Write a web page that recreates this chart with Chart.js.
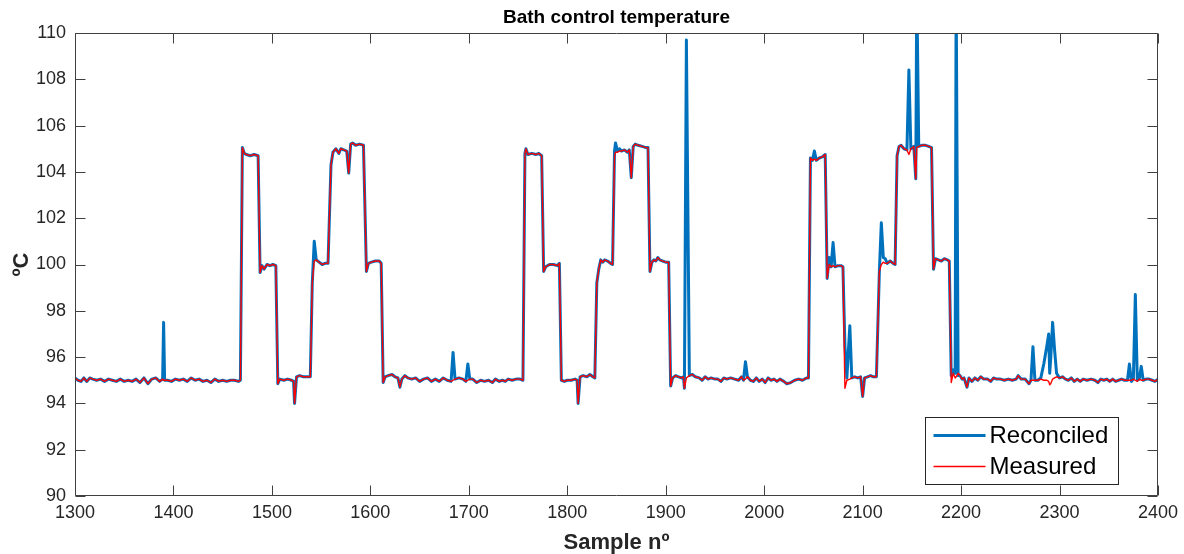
<!DOCTYPE html>
<html>
<head>
<meta charset="utf-8">
<title>Bath control temperature</title>
<script src="https://cdn.jsdelivr.net/npm/chart.js@4.4.1/dist/chart.umd.min.js"></script>
<style>
    html, body { margin: 0; padding: 0; background: #ffffff; }
    #chartWrap { position: relative; width: 1184px; height: 554px; }
</style>
</head>
<body>
<div id="chartWrap"><canvas id="bathChart"></canvas></div>
<script>
// sample numbers (x) shared by both series
const sampleNo = [
    1300,1303,1306,1309,1312,1315,1318,1322,1326,1330,
    1334,1338,1342,1346,1350,1354,1358,1362,1366,1370,
    1374,1378,1382,1386,1389,1390,1391,1394,1398,1402,
    1406,1410,1414,1418,1422,1426,1430,1434,1438,1442,
    1446,1450,1454,1458,1462,1466,1468,1470,1472,1474,
    1478,1482,1486,1488,1490,1492,1495,1498,1501,1504,
    1506,1508,1512,1516,1520,1522,1523,1525,1528,1532,
    1536,1539,1541,1543,1545,1548,1551,1554,1557,1560,
    1562,1565,1568,1570,1573,1576,1578,1580,1582,1585,
    1589,1593,1596,1598,1601,1605,1609,1611,1613,1615,
    1618,1622,1625,1628,1630,1632,1635,1638,1642,1646,
    1650,1654,1658,1662,1666,1670,1674,1678,1682,1684,
    1686,1690,1694,1697,1699,1701,1704,1708,1712,1716,
    1720,1724,1727,1731,1734,1737,1740,1744,1748,1752,
    1755,1757,1758,1760,1764,1768,1771,1774,1776,1778,
    1782,1786,1790,1792,1794,1797,1800,1804,1808,1810,
    1811,1813,1816,1820,1823,1826,1828,1830,1832,1834,
    1836,1838,1841,1844,1846,1848,1849,1851,1853,1855,
    1858,1861,1863,1865,1867,1869,1872,1876,1880,1882,
    1884,1886,1888,1890,1892,1894,1897,1900,1903,1905,
    1907,1910,1913,1916,1918,1919,1921,1924,1927,1930,
    1934,1937,1940,1943,1946,1950,1953,1956,1959,1962,
    1966,1970,1974,1977,1979,1981,1983,1986,1989,1992,
    1995,1998,2001,2004,2007,2010,2013,2016,2020,2023,
    2027,2031,2035,2039,2043,2045,2047,2049,2051,2053,
    2056,2059,2062,2064,2066,2068,2070,2072,2075,2078,
    2080,2082,2084,2087,2089,2092,2095,2098,2100,2102,
    2105,2108,2111,2114,2117,2119,2121,2123,2125,2128,
    2131,2133,2135,2137,2139,2142,2145,2147,2149,2152,
    2154,2155,2157,2160,2164,2167,2170,2172,2174,2177,
    2180,2183,2186,2188,2190,2192,2194,2195,2197,2199,
    2201,2203,2206,2208,2211,2214,2217,2220,2223,2227,
    2230,2233,2236,2240,2244,2248,2252,2256,2258,2261,
    2265,2269,2271,2273,2275,2278,2281,2284,2287,2289,
    2290,2291,2293,2295,2297,2300,2303,2306,2309,2312,
    2315,2318,2321,2324,2328,2332,2336,2339,2342,2345,
    2348,2351,2354,2357,2360,2363,2366,2369,2371,2373,
    2375,2377,2379,2381,2383,2385,2388,2391,2394,2397,
    2400
];

const measured = [
    95.1,95.0,94.95,95.1,94.95,95.1,95.05,95.0,95.05,94.95,
    95.05,95.0,94.95,95.05,94.95,95.0,94.95,95.05,94.9,95.1,
    94.85,95.05,95.1,94.95,95.05,95.0,95.0,95.0,94.95,95.05,
    95.0,95.05,94.95,95.1,95.0,95.05,94.95,95.0,94.9,95.05,
    94.95,95.0,94.95,95.0,95.0,94.95,95.0,105.05,104.8,104.75,
    104.7,104.75,104.7,99.65,99.95,99.8,100.0,99.95,100.0,99.95,
    94.85,95.05,95.0,95.05,95.0,94.95,94.0,95.15,95.2,95.15,
    95.15,95.15,99.2,100.15,100.2,100.1,100.0,100.05,100.05,104.3,
    104.85,105.0,104.8,105.0,104.95,104.9,103.95,105.2,105.25,105.15,
    105.2,105.15,99.7,100.05,100.1,100.15,100.15,100.05,94.9,95.15,
    95.2,95.25,95.15,95.1,94.7,95.05,95.2,95.1,95.05,95.1,
    94.95,95.05,95.1,94.95,95.05,94.95,95.1,95.0,94.95,95.0,
    95.05,95.1,95.05,94.95,95.0,95.05,95.05,94.9,95.0,94.95,
    95.0,94.9,95.05,94.95,95.0,94.95,95.05,95.0,95.05,95.05,
    95.0,104.8,105.0,104.75,104.8,104.75,104.8,104.7,99.7,99.9,
    100.0,100.0,99.95,100.05,95.0,94.95,95.0,95.0,95.05,95.0,
    94.0,95.15,95.2,95.15,95.25,95.15,95.1,99.2,99.8,100.2,
    100.1,100.2,100.15,100.05,100.0,104.7,104.85,104.85,104.9,104.9,
    104.95,104.85,104.95,103.75,105.1,105.2,105.15,105.1,105.05,105.05,
    99.7,100.1,100.2,100.15,100.3,100.2,100.15,100.1,100.1,94.75,
    95.1,95.2,95.15,95.1,95.15,94.65,95.1,95.2,95.25,95.15,
    95.1,95.0,95.15,95.05,95.1,95.05,95.05,94.95,95.1,95.05,
    95.1,95.05,95.0,95.15,95.0,95.05,95.15,95.0,94.95,95.1,
    94.95,95.05,94.9,95.1,95.0,95.05,94.95,95.05,94.95,94.85,
    94.9,95.0,95.05,95.0,95.1,95.1,104.6,104.5,104.55,104.5,
    104.6,104.65,104.75,99.4,100.0,99.9,99.95,99.9,99.95,99.95,
    99.9,94.65,95.0,95.05,95.1,95.15,95.1,95.15,94.3,95.1,
    95.15,95.2,95.15,95.15,99.7,100.0,100.1,100.05,100.05,100.15,
    100.05,100.0,104.7,105.1,105.15,105.0,104.95,104.75,105.0,105.1,
    103.7,105.05,105.1,105.15,105.15,105.1,105.05,99.8,100.25,100.2,
    100.15,100.25,100.2,100.15,94.9,95.3,95.1,95.15,95.3,95.2,
    95.05,95.1,94.7,95.1,94.95,95.1,95.0,95.15,95.05,95.05,
    94.95,95.1,95.05,95.05,95.0,95.05,95.0,95.05,95.2,95.05,
    95.05,94.85,95.0,95.0,95.0,95.0,95.05,95.0,95.0,94.95,
    94.8,94.85,95.05,95.1,95.15,95.1,95.15,95.05,95.0,95.1,
    94.95,95.05,94.95,95.05,95.0,95.05,95.0,94.9,95.05,95.0,
    95.05,94.95,95.05,94.95,95.0,95.05,95.0,95.0,95.0,95.0,
    95.05,95.0,94.95,95.05,95.0,95.0,95.05,95.05,95.0,94.95,
    95.05
];

const reconciled = [
    95.1,95.0,94.95,95.1,94.95,95.1,95.05,95.0,95.05,94.95,
    95.05,95.0,94.95,95.05,94.95,95.0,94.95,95.05,94.9,95.1,
    94.85,95.05,95.1,94.95,95.05,97.5,95.0,95.0,94.95,95.05,
    95.0,95.05,94.95,95.1,95.0,95.05,94.95,95.0,94.9,95.05,
    94.95,95.0,94.95,95.0,95.0,94.95,95.0,105.05,104.8,104.75,
    104.7,104.75,104.7,99.65,99.95,99.8,100.0,99.95,100.0,99.95,
    94.85,95.05,95.0,95.05,95.0,94.95,94.0,95.15,95.2,95.15,
    95.15,95.15,99.2,101.0,100.2,100.1,100.0,100.05,100.05,104.3,
    104.85,105.0,104.8,105.0,104.95,104.9,103.95,105.2,105.25,105.15,
    105.2,105.15,99.7,100.05,100.1,100.15,100.15,100.05,94.9,95.15,
    95.2,95.25,95.15,95.1,94.7,95.05,95.2,95.1,95.05,95.1,
    94.95,95.05,95.1,94.95,95.05,94.95,95.1,95.0,94.95,96.2,
    95.05,95.1,95.05,94.95,95.7,95.05,95.05,94.9,95.0,94.95,
    95.0,94.9,95.05,94.95,95.0,94.95,95.05,95.0,95.05,95.05,
    95.0,104.8,105.0,104.75,104.8,104.75,104.8,104.7,99.7,99.9,
    100.0,100.0,99.95,100.05,95.0,94.95,95.0,95.0,95.05,95.0,
    94.0,95.15,95.2,95.15,95.25,95.15,95.1,99.2,99.8,100.2,
    100.1,100.2,100.15,100.05,100.0,104.9,105.25,104.9,105.0,104.9,
    104.95,104.85,104.95,103.75,105.1,105.2,105.15,105.1,105.05,105.05,
    99.7,100.1,100.2,100.15,100.3,100.2,100.15,100.1,100.1,94.75,
    95.1,95.2,95.15,95.1,95.15,94.65,109.7,95.2,95.25,95.15,
    95.1,95.0,95.15,95.05,95.1,95.05,95.05,94.95,95.1,95.05,
    95.1,95.05,95.0,95.15,95.0,95.8,95.15,95.0,94.95,95.1,
    94.95,95.05,94.9,95.1,95.0,95.05,94.95,95.05,94.95,94.85,
    94.9,95.0,95.05,95.0,95.1,95.1,104.6,104.5,104.9,104.5,
    104.6,104.65,104.75,99.4,100.3,99.9,100.95,99.9,99.95,99.95,
    99.9,96.5,95.1,97.35,95.1,95.15,95.1,95.15,94.3,95.1,
    95.15,95.2,95.15,95.15,99.7,101.8,100.3,100.25,100.05,100.15,
    100.05,100.0,104.7,105.1,105.15,105.0,104.95,108.4,105.0,105.1,
    103.7,112.0,105.1,105.15,105.15,105.1,105.05,99.8,100.25,100.2,
    100.15,100.25,100.2,100.15,95.2,95.45,95.3,112.0,95.2,95.2,
    95.05,95.1,94.7,95.1,94.95,95.1,95.0,95.15,95.05,95.05,
    94.95,95.1,95.05,95.05,95.0,95.05,95.0,95.05,95.2,95.05,
    95.05,94.85,95.0,96.45,95.0,95.0,95.1,95.7,96.45,97.0,
    95.3,95.9,97.5,96.3,95.3,95.1,95.15,95.05,95.0,95.1,
    94.95,95.05,94.95,95.05,95.0,95.05,95.0,94.9,95.05,95.0,
    95.05,94.95,95.05,94.95,95.0,95.05,95.0,95.0,95.7,94.95,
    95.05,98.7,95.0,95.05,95.6,95.0,95.05,95.05,95.0,94.95,
    95.05
];

const xTickRange = [1300, 2400, 100];
const yTickRange = [90, 110, 2];
const seriesLabels = ["Reconciled", "Measured"];
const chartTitle = "Bath control temperature";

const FONT = "'Liberation Sans', Arial, Helvetica, sans-serif";
const AXIS_COLOR = "#404040";

function toPoints(values) {
    return sampleNo.map((x, i) => ({ x: x, y: values[i] }));
}

// title centred over the axes, like MATLAB does
const axesTitlePlugin = {
    id: "axesTitle",
    afterDraw(chart) {
        const ctx = chart.ctx;
        const ca = chart.chartArea;
        ctx.save();
        ctx.font = "bold 19px " + FONT;
        ctx.fillStyle = "#000000";
        ctx.textAlign = "center";
        ctx.textBaseline = "middle";
        ctx.fillText(chartTitle, (ca.left + ca.right) / 2, 18);
        ctx.restore();
    },
};

// MATLAB style box with inward ticks on all four sides
const boxTicksPlugin = {
    id: "boxTicks",
    afterDatasetsDraw(chart) {
        const ctx = chart.ctx;
        const ca = chart.chartArea;
        const left = Math.round(ca.left) + 0.5;
        const right = Math.round(ca.right) - 0.5;
        const top = Math.round(ca.top) + 0.5;
        const bottom = Math.round(ca.bottom) - 0.5;
        const len = 10;

        ctx.save();
        ctx.strokeStyle = AXIS_COLOR;
        ctx.lineWidth = 1;
        ctx.beginPath();
        ctx.rect(left, top, right - left, bottom - top);

        chart.scales.x.ticks.forEach((t) => {
            const px = Math.round(chart.scales.x.getPixelForValue(t.value)) + 0.5;
            ctx.moveTo(px, bottom);
            ctx.lineTo(px, bottom - len);
            ctx.moveTo(px, top);
            ctx.lineTo(px, top + len);
        });
        chart.scales.y.ticks.forEach((t) => {
            const py = Math.round(chart.scales.y.getPixelForValue(t.value)) + 0.5;
            ctx.moveTo(left, py);
            ctx.lineTo(left + len, py);
            ctx.moveTo(right, py);
            ctx.lineTo(right - len, py);
        });
        ctx.stroke();
        ctx.restore();
    },
};

// legend box inside the axes, bottom right
const insideLegendPlugin = {
    id: "insideLegend",
    afterDraw(chart) {
        const ctx = chart.ctx;
        const ca = chart.chartArea;
        const boxW = 193;
        const boxH = 67;
        const x0 = Math.round(ca.right - 40 - boxW) + 0.5;
        const y0 = Math.round(ca.bottom - 12 - boxH) + 0.5;

        ctx.save();
        ctx.fillStyle = "#ffffff";
        ctx.fillRect(x0, y0, boxW, boxH);
        ctx.strokeStyle = "#262626";
        ctx.lineWidth = 1;
        ctx.strokeRect(x0, y0, boxW, boxH);

        ctx.font = "24px " + FONT;
        ctx.textBaseline = "middle";
        ctx.textAlign = "left";
        chart.data.datasets.forEach((ds, i) => {
            const y = y0 + 18 + i * 31;
            ctx.strokeStyle = ds.borderColor;
            ctx.lineWidth = ds.borderWidth;
            ctx.beginPath();
            ctx.moveTo(x0 + 8, y);
            ctx.lineTo(x0 + 60, y);
            ctx.stroke();
            ctx.fillStyle = "#000000";
            ctx.fillText(ds.label, x0 + 64, y + 1);
        });
        ctx.restore();
    },
};

const ctx = document.getElementById("bathChart").getContext("2d");

new Chart(ctx, {
    type: "line",
    data: {
        datasets: [
            {
                label: seriesLabels[0],
                data: toPoints(reconciled),
                borderColor: "#0072BD",
                backgroundColor: "#0072BD",
                borderWidth: 3,
                pointRadius: 0,
                tension: 0,
                borderJoinStyle: "round",
                borderCapStyle: "round",
                order: 2,
            },
            {
                label: seriesLabels[1],
                data: toPoints(measured),
                borderColor: "#FF0000",
                backgroundColor: "#FF0000",
                borderWidth: 1.4,
                pointRadius: 0,
                tension: 0,
                borderJoinStyle: "round",
                order: 1,
            },
        ],
    },
    options: {
        responsive: true,
        maintainAspectRatio: false,
        animation: false,
        devicePixelRatio: 1,
        layout: {
            padding: { top: 33, right: 26, bottom: 0, left: 0 },
        },
        plugins: {
            legend: { display: false },
            tooltip: { enabled: false },
            title: { display: false },
        },
        scales: {
            x: {
                type: "linear",
                min: xTickRange[0],
                max: xTickRange[1],
                grid: { display: false, drawTicks: false },
                border: { display: false },
                ticks: {
                    stepSize: xTickRange[2],
                    autoSkip: false,
                    maxRotation: 0,
                    padding: 6,
                    color: "#262626",
                    font: { family: FONT, size: 18 },
                    callback: (value) => String(value),
                },
                title: {
                    display: true,
                    text: "Sample nº",
                    color: "#262626",
                    font: { family: FONT, size: 22, weight: "bold" },
                    padding: { top: 0, bottom: -2 },
                },
                afterFit(scale) {
                    scale.height = 58;
                },
            },
            y: {
                min: yTickRange[0],
                max: yTickRange[1],
                grid: { display: false, drawTicks: false },
                border: { display: false },
                ticks: {
                    stepSize: yTickRange[2],
                    padding: 9,
                    color: "#262626",
                    font: { family: FONT, size: 18 },
                },
                title: {
                    display: true,
                    text: "ºC",
                    color: "#262626",
                    font: { family: FONT, size: 22, weight: "bold" },
                    padding: { top: 9, bottom: 0 },
                },
                afterFit(scale) {
                    scale.width = 75;
                },
            },
        },
    },
    plugins: [boxTicksPlugin, insideLegendPlugin, axesTitlePlugin],
});
</script>
</body>
</html>
